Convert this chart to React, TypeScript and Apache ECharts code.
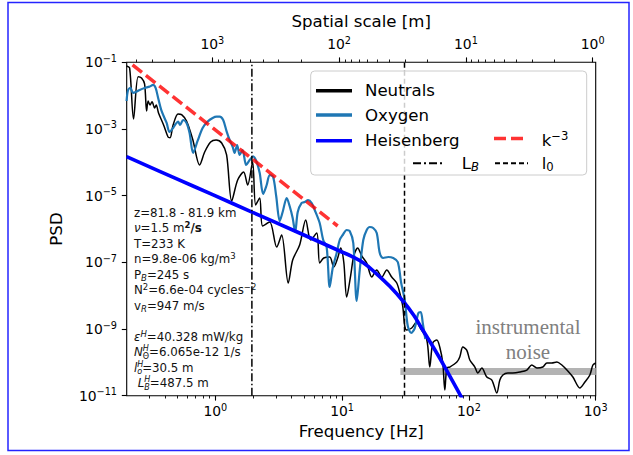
import React, { useEffect, useRef } from "react";
import * as echarts from "echarts";

const FONT = "DejaVu Sans";
const SERIF = "Liberation Serif";

// axis ranges
const X_MIN = 0.2;
const X_MAX = 1000;
const Y_MIN = 1e-11;
const Y_MAX = 1e-1;
const V_R = 947; // m/s
const L_B = 487.5; // m
const L_0 = 30.5; // m

// tick labels
const yTicks = [1e-11, 1e-9, 1e-7, 1e-5, 1e-3, 1e-1];
const xTicks = [1, 10, 100, 1000];
const scaleTicks = [1, 10, 100, 1000];

// [log10 f, log10 PSD]
const neutralsExp: [number, number][] = [
  [-0.7, -1.11], [-0.676, -1.17], [-0.645, -2.7], [-0.609, -1.43], [-0.582, -1.47], [-0.558, -1.65],
  [-0.542, -2.46], [-0.53, -2.16], [-0.515, -2.28], [-0.499, -2.18], [-0.479, -2.37], [-0.466, -2.28],
  [-0.448, -2.52], [-0.408, -2.88], [-0.373, -3.24], [-0.357, -3.26], [-0.333, -2.88], [-0.294, -2.55],
  [-0.266, -2.57], [-0.227, -2.76], [-0.179, -3.3], [-0.124, -4.08], [-0.084, -3.69], [-0.037, -3.39],
  [0.006, -3.33], [0.05, -3.42], [0.089, -3.78], [0.129, -5.16], [0.176, -4.53], [0.223, -4.29],
  [0.255, -4.68], [0.294, -3.99], [0.318, -5.28], [0.35, -5.07], [0.373, -5.91], [0.429, -5.79],
  [0.484, -6.54], [0.523, -6.18], [0.575, -7.62], [0.61, -6.93], [0.665, -6.48], [0.713, -5.73],
  [0.752, -6.33], [0.8, -6.12], [0.823, -7.02], [0.855, -6.87], [0.902, -6.84], [0.934, -7.14],
  [0.965, -6.87], [0.989, -6.57], [1.013, -6.99], [1.036, -8.04], [1.068, -7.38], [1.092, -6.81],
  [1.123, -6.57], [1.155, -6.81], [1.194, -7.02], [1.234, -7.44], [1.273, -7.23], [1.313, -7.44],
  [1.352, -7.23], [1.391, -7.44], [1.431, -7.62], [1.455, -7.92], [1.478, -8.31], [1.494, -8.91],
  [1.51, -9.03], [1.549, -8.97], [1.589, -8.79], [1.612, -8.94], [1.668, -9.33], [1.691, -10.14],
  [1.715, -9.42], [1.747, -9.33], [1.77, -9.54], [1.794, -10.02], [1.81, -10.83], [1.826, -10.17],
  [1.849, -10.14], [1.905, -9.99], [1.928, -9.84], [1.952, -9.54], [1.983, -9.63], [2.007, -9.93],
  [2.047, -10.14], [2.07, -10.32], [2.102, -10.17], [2.141, -10.44], [2.181, -10.53], [2.22, -10.92],
  [2.244, -10.53], [2.268, -10.38], [2.307, -10.32], [2.346, -10.32], [2.402, -10.29], [2.457, -10.23],
  [2.496, -10.08], [2.536, -10.17], [2.583, -10.14], [2.615, -10.02], [2.654, -10.02], [2.694, -9.99],
  [2.733, -10.08], [2.773, -10.23], [2.82, -10.44], [2.875, -10.77], [2.915, -10.59], [2.954, -10.38],
  [2.978, -10.08], [3.0, -10.02],
];

const oxygenExp: [number, number][] = [
  [-0.7, -2.16], [-0.688, -1.83], [-0.669, -1.77], [-0.649, -1.92], [-0.621, -1.88], [-0.597, -1.83],
  [-0.558, -1.77], [-0.519, -1.73], [-0.491, -1.68], [-0.471, -1.77], [-0.451, -2.07], [-0.424, -2.46],
  [-0.384, -2.82], [-0.361, -3.09], [-0.333, -2.97], [-0.313, -2.85], [-0.294, -2.78], [-0.278, -2.88],
  [-0.254, -2.73], [-0.227, -2.82], [-0.203, -3.12], [-0.175, -3.72], [-0.14, -3.36], [-0.1, -2.97],
  [-0.061, -2.78], [-0.021, -2.67], [0.01, -2.63], [0.034, -2.63], [0.062, -2.73], [0.089, -3.07],
  [0.113, -3.33], [0.137, -3.54], [0.152, -3.72], [0.172, -3.48], [0.192, -3.78], [0.215, -3.63],
  [0.243, -4.08], [0.271, -3.93], [0.298, -3.82], [0.326, -3.99], [0.35, -4.32], [0.377, -4.95],
  [0.405, -4.68], [0.429, -4.38], [0.456, -4.44], [0.48, -5.01], [0.508, -5.76], [0.531, -5.49],
  [0.563, -5.07], [0.586, -5.31], [0.61, -5.67], [0.63, -6.09], [0.65, -5.49], [0.681, -5.22],
  [0.705, -5.19], [0.732, -5.13], [0.76, -5.22], [0.784, -5.43], [0.823, -5.82], [0.851, -6.33],
  [0.878, -6.54], [0.902, -7.74], [0.926, -7.17], [0.957, -6.72], [0.981, -6.33], [1.005, -6.18],
  [1.036, -6.03], [1.06, -6.06], [1.088, -6.42], [1.115, -8.16], [1.139, -7.23], [1.167, -6.33],
  [1.194, -6.03], [1.218, -5.94], [1.245, -5.97], [1.273, -6.12], [1.297, -6.72], [1.324, -6.87],
  [1.364, -6.84], [1.403, -6.87], [1.439, -6.99], [1.466, -7.62], [1.494, -8.13], [1.518, -8.91],
  [1.545, -9.12], [1.573, -8.97], [1.601, -8.52], [1.62, -8.49], [1.636, -8.82], [1.656, -9.3],
];

const heisenbergExp: [number, number][] = [
  [-0.7, -3.83], [-0.313, -4.48], [-0.021, -4.97], [0.294, -5.5], [0.61, -6.03], [0.823, -6.39],
  [0.981, -6.66], [1.076, -6.82], [1.17, -7.02], [1.265, -7.32], [1.376, -7.72], [1.486, -8.19],
  [1.565, -8.59], [1.636, -9.03], [1.723, -9.57], [1.81, -10.14], [1.936, -11.01], [2.007, -11.51],
];

const k3Exp: [number, number][] = [[-0.653, -1.08], [0.965, -5.91]];

const noiseFreq = [28.8, 1000];
const noiseLevel = 5.3e-11;

const toData = (arr: [number, number][]) => arr.map(([a, b]) => [10 ** a, 10 ** b]);

const minorValues = (lo: number, hi: number) => {
  const out: number[] = [];
  for (let e = Math.floor(Math.log10(lo)); e <= Math.ceil(Math.log10(hi)); e++) {
    for (let m = 2; m <= 9; m++) {
      const v = m * Math.pow(10, e);
      if (v > lo * 1.0001 && v < hi * 0.9999) out.push(v);
    }
  }
  return out;
};

const supLabel = (v: number) => {
  const e = Math.round(Math.log10(v));
  const s = e < 0 ? "\u2212" + Math.abs(e) : String(e);
  return `{b|10}{s|${s}}`;
};

const tickRich = {
  b: { fontFamily: FONT, fontSize: 13.9, lineHeight: 18, color: "#000" },
  s: { fontFamily: FONT, fontSize: 9.7, lineHeight: 10, verticalAlign: "top", color: "#000" },
};

const nameStyle = { fontFamily: FONT, fontSize: 16.6, color: "#000" };
const tickLine = { color: "#000", width: 1.1 };

const TB = 11.8;
const LH = 15.5;
const rs = (o: any) => ({ fontFamily: FONT, fontSize: TB, lineHeight: LH, fill: "#111", ...o });
const infoRich = {
  i: rs({ fontStyle: "italic" }),
  bd: rs({ fontWeight: "bold" }),
  sup: rs({ fontSize: 8.5, lineHeight: 8, verticalAlign: "top" }),
  supb: rs({ fontSize: 8.5, lineHeight: 8, verticalAlign: "top", fontWeight: "bold" }),
  supi: rs({ fontSize: 8.5, lineHeight: 8, verticalAlign: "top", fontStyle: "italic" }),
  supi0: rs({ fontSize: 8, lineHeight: 5, verticalAlign: "top", fontStyle: "italic", width: 0 }),
  sub: rs({ fontSize: 8, lineHeight: 5, verticalAlign: "bottom" }),
  subi: rs({ fontSize: 8, lineHeight: 5, verticalAlign: "bottom", fontStyle: "italic" }),
  subB: rs({ fontSize: 8.5, lineHeight: 8, verticalAlign: "bottom", fontStyle: "italic" }),
};
const infoLines = [
  "z=81.8 - 81.9 km",
  "{i|\u03bd}=1.5 m{supb|2}{bd|/s}",
  "T=233 K",
  "n=9.8e-06 kg/m{sup|3}",
  "P{subB|B}=245 s",
  "N{sup|2}=6.6e-04 cycles{sup|\u22122}",
  "v{subB|R}=947 m/s",
  " ",
  "{i|\u03b5}{supi|H}=40.328 mW/kg",
  "{i|N}{supi0|H}{sub|\u0398}=6.065e-12 1/s",
  "{i|l}{supi0|H}{subi|o}=30.5 m",
  " {i|L}{supi0|H}{subi|B}=487.5 m",
];

const LG = 16.6;
const lr = (o: any) => ({ fontFamily: FONT, fontSize: LG, lineHeight: 20, fill: "#000", ...o });
const legendRich = {
  s: lr({ fontSize: 11.6, lineHeight: 10, verticalAlign: "top" }),
  si: lr({ fontSize: 11.6, lineHeight: 10, verticalAlign: "bottom", fontStyle: "italic" }),
  sb: lr({ fontSize: 11.6, lineHeight: 10, verticalAlign: "bottom" }),
};

const legendText = (x: number, y: number, text: string) => ({
  type: "text",
  x,
  y,
  z: 101,
  style: { text, fontFamily: FONT, fontSize: LG, lineHeight: 20, fill: "#000", verticalAlign: "middle", align: "left", rich: legendRich },
});
const legendLine = (x1: number, x2: number, y: number, stroke: string, lineWidth: number, lineDash?: number[]) => ({
  type: "line",
  z: 101,
  shape: { x1, y1: y, x2, y2: y },
  style: { stroke, lineWidth, lineDash: lineDash || null, lineCap: "butt" },
});

const NEUTRAL_C = "#000000";
const OXY_C = "#1f77b4";
const HEIS_C = "#0000ff";
const K3_C = "rgba(255,0,0,0.8)";

export default function App() {
  const ref = useRef<HTMLDivElement>(null);
  useEffect(() => {
    const chart = echarts.init(ref.current!, null, { renderer: "svg" });
    const fLB = V_R / L_B;
    const fL0 = V_R / L_0;
    const option: any = {
      animation: false,
      backgroundColor: "#ffffff",
      textStyle: { fontFamily: FONT },
      grid: {
        left: 126.7,
        right: 37.3,
        top: 62.3,
        bottom: 59.3,
        show: true,
        borderColor: "#000",
        borderWidth: 1.1,
        backgroundColor: "transparent",
      },
      xAxis: [
        {
          type: "log",
          logBase: 10,
          min: X_MIN,
          max: X_MAX,
          position: "bottom",
          name: "Frequency [Hz]",
          nameLocation: "middle",
          nameGap: 27.5,
          nameTextStyle: nameStyle,
          axisLine: { show: false, onZero: false },
          splitLine: { show: false },
          axisTick: { show: true, length: 4.9, lineStyle: tickLine, customValues: xTicks },
          axisLabel: { customValues: xTicks, formatter: supLabel, rich: tickRich, margin: 6.3 },
        },
        {
          type: "log",
          logBase: 10,
          min: X_MIN,
          max: X_MAX,
          position: "bottom",
          axisLine: { show: false, onZero: false },
          splitLine: { show: false },
          axisLabel: { show: false },
          axisTick: { show: true, length: 2.8, lineStyle: { color: "#000", width: 0.9 }, customValues: minorValues(X_MIN, X_MAX) },
        },
        {
          type: "log",
          logBase: 10,
          inverse: true,
          min: V_R / X_MAX,
          max: V_R / X_MIN,
          position: "top",
          name: "Spatial scale [m]",
          nameLocation: "middle",
          nameGap: 26,
          nameTextStyle: nameStyle,
          axisLine: { show: false, onZero: false },
          splitLine: { show: false },
          axisTick: { show: true, length: 4.9, lineStyle: tickLine, customValues: scaleTicks },
          axisLabel: { customValues: scaleTicks, formatter: supLabel, rich: tickRich, margin: 9.3 },
        },
        {
          type: "log",
          logBase: 10,
          inverse: true,
          min: V_R / X_MAX,
          max: V_R / X_MIN,
          position: "top",
          axisLine: { show: false, onZero: false },
          splitLine: { show: false },
          axisLabel: { show: false },
          axisTick: { show: true, length: 2.8, lineStyle: { color: "#000", width: 0.9 }, customValues: minorValues(V_R / X_MAX, V_R / X_MIN) },
        },
      ],
      yAxis: [
        {
          type: "log",
          logBase: 10,
          min: Y_MIN,
          max: Y_MAX,
          name: "PSD",
          nameLocation: "middle",
          nameGap: 62,
          nameRotate: 90,
          nameTextStyle: nameStyle,
          axisLine: { show: false, onZero: false },
          splitLine: { show: false },
          axisTick: { show: true, length: 4.9, lineStyle: tickLine, customValues: yTicks },
          axisLabel: { customValues: yTicks, formatter: supLabel, rich: tickRich, margin: 9.7 },
        },
      ],
      series: [
        {
          name: "noise",
          type: "line",
          data: noiseFreq.map((f) => [f, noiseLevel]),
          symbol: "none",
          lineStyle: { color: "#b3b3b3", width: 7, cap: "butt" },
          silent: true,
        },
        {
          name: "Neutrals",
          type: "line",
          data: toData(neutralsExp),
          symbol: "none",
          smooth: 0.3,
          lineStyle: { color: NEUTRAL_C, width: 1.5 },
        },
        {
          name: "Oxygen",
          type: "line",
          data: toData(oxygenExp),
          symbol: "none",
          smooth: 0.3,
          lineStyle: { color: OXY_C, width: 2.2 },
        },
        {
          name: "Heisenberg",
          type: "line",
          data: toData(heisenbergExp),
          symbol: "none",
          smooth: 0.4,
          lineStyle: { color: HEIS_C, width: 3.6 },
        },
        {
          name: "k-3",
          type: "line",
          data: toData(k3Exp),
          symbol: "none",
          lineStyle: { color: K3_C, width: 3.5, type: [12, 5] },
        },
        {
          name: "LB",
          type: "line",
          data: [[fLB, Y_MIN], [fLB, Y_MAX]],
          symbol: "none",
          lineStyle: { color: "#000", width: 1.5, type: [8, 2.5, 1.5, 2.5] },
        },
        {
          name: "l0",
          type: "line",
          data: [[fL0, Y_MIN], [fL0, Y_MAX]],
          symbol: "none",
          lineStyle: { color: "#000", width: 1.5, type: [5, 3] },
        },
      ],
      graphic: [
        {
          type: "rect",
          z: 0,
          silent: true,
          shape: { x: 8, y: 2.5, width: 621, height: 448 },
          style: { fill: "none", stroke: "#2424ff", lineWidth: 1.5 },
        },
        {
          type: "text",
          x: 134,
          y: 205.2,
          z: 50,
          style: {
            text: infoLines.join("\n"),
            fontFamily: FONT,
            fontSize: TB,
            lineHeight: LH,
            fill: "#111",
            align: "left",
            verticalAlign: "top",
            rich: infoRich,
          },
        },
        {
          type: "text",
          x: 528,
          y: 314.5,
          z: 50,
          style: {
            text: "instrumental\nnoise",
            fontFamily: SERIF,
            fontSize: 21,
            lineHeight: 25,
            fill: "#808080",
            align: "center",
            verticalAlign: "top",
          },
        },
        {
          type: "rect",
          z: 100,
          shape: { x: 310.7, y: 71, width: 276, height: 104, r: 4 },
          style: { fill: "rgba(255,255,255,0.8)", stroke: "#cccccc", lineWidth: 1 },
        },
        legendLine(316, 352, 90.7, NEUTRAL_C, 3.5),
        legendText(365, 90.7, "Neutrals"),
        legendLine(316, 352, 115, OXY_C, 3.5),
        legendText(365, 115, "Oxygen"),
        legendLine(316, 352, 140.7, HEIS_C, 3.5),
        legendText(365, 140.7, "Heisenberg"),
        legendLine(494, 527, 138.5, K3_C, 3.5, [12, 5]),
        legendText(541.7, 140, "k{s|\u22123}"),
        legendLine(413, 445, 163.3, "#000", 2, [8, 3, 2, 3]),
        legendText(461.7, 163.3, "L{si|B}"),
        legendLine(495, 528, 163.3, "#000", 2, [5, 3]),
        legendText(541.7, 163.3, "l{sb|0}"),
      ],
    };
    chart.setOption(option);
    return () => chart.dispose();
  }, []);
  return <div ref={ref} style={{ position: "absolute", left: 0, top: 0, width: 633, height: 455 }} />;
}
